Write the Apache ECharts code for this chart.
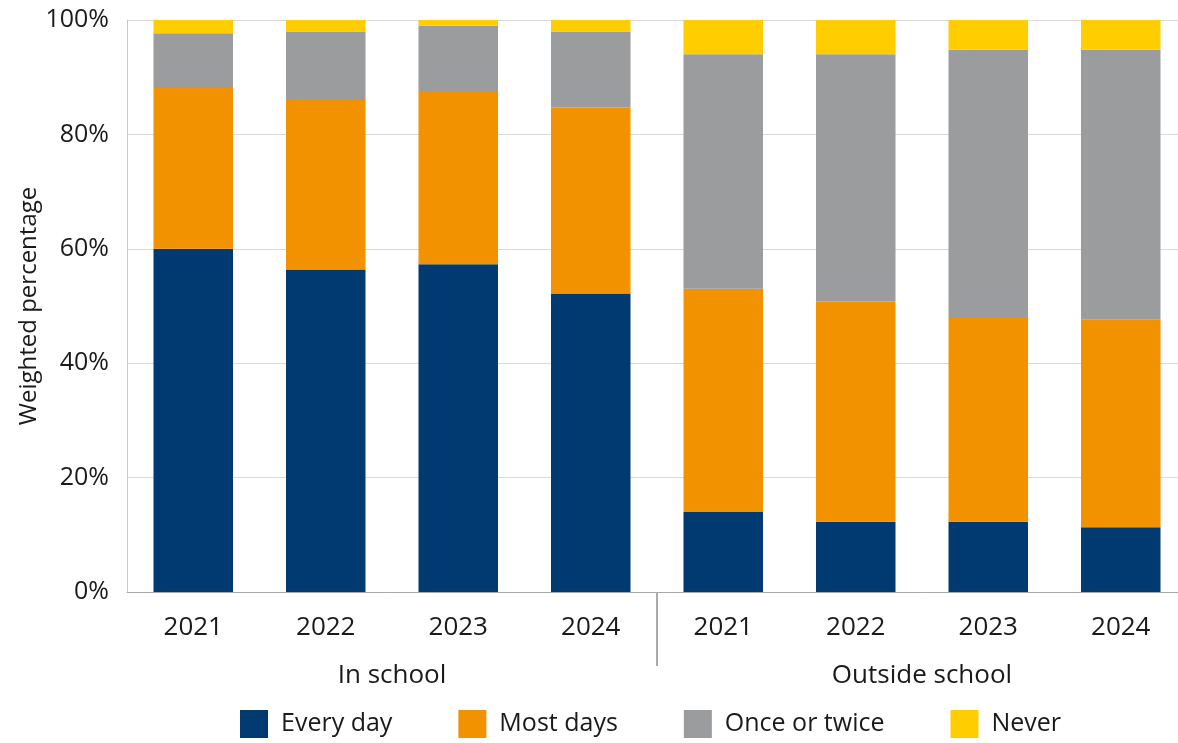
<!DOCTYPE html>
<html>
<head>
<meta charset="utf-8">
<script src="https://cdn.jsdelivr.net/npm/echarts@6/dist/echarts.min.js"></script>
<style>html,body{margin:0;padding:0;background:#fff;overflow:hidden}#c{width:1190px;height:743px}</style>
</head>
<body>
<div id="c"></div>
<script>
const years = ['2021', '2022', '2023', '2024', '2021', '2022', '2023', '2024'];
const groups = ['In school', 'Outside school'];
const seriesNames = ['Every day', 'Most days', 'Once or twice', 'Never'];
const everyDay = [60, 56.4, 57.3, 52.2, 14, 12.3, 12.3, 11.3];
const mostDays = [28.1, 29.6, 30.3, 32.5, 39, 38.5, 35.6, 36.4];
const onceOrTwice = [9.6, 12, 11.4, 13.3, 41, 43.2, 46.9, 47.1];
const never = [2.3, 2, 1, 2, 6, 6, 5.2, 5.2];
const yTicks = [0, 20, 40, 60, 80, 100];
const colors = ['#003a70', '#f39200', '#9b9c9d', '#ffcd00'];

const font = '"Open Sans", Lato, sans-serif';
const chart = echarts.init(document.getElementById('c'), null, {renderer: 'canvas'});
const values = [everyDay, mostDays, onceOrTwice, never];

chart.setOption({
  animation: false,
  textStyle: {fontFamily: font},
  color: colors,
  grid: [
    {left: 127, top: 20, width: 1060, height: 572},
    {left: 127, top: 592, width: 1060, height: 74}
  ],
  legend: {
    left: 235, bottom: 0,
    itemWidth: 28, itemHeight: 28, itemGap: 66,
    icon: 'rect',
    textStyle: {fontSize: 25, color: '#1a1a1a', fontFamily: font, padding: [0, 0, 0, 8]},
    data: seriesNames
  },
  xAxis: [
    {
      type: 'category', gridIndex: 0, data: years,
      axisLine: {lineStyle: {color: '#aaa', width: 1}},
      axisTick: {show: false},
      axisLabel: {fontSize: 26, color: '#1a1a1a', margin: 23, fontFamily: font}
    },
    {
      type: 'category', gridIndex: 1, data: groups,
      axisLine: {show: false},
      axisTick: {show: false},
      splitLine: {show: true, showMinLine: false, showMaxLine: false, lineStyle: {color: '#aaa', width: 2}},
      axisLabel: {fontSize: 26, color: '#1a1a1a', margin: -3, fontFamily: font}
    }
  ],
  yAxis: [
    {
      type: 'value', gridIndex: 0, min: yTicks[0], max: yTicks[yTicks.length - 1], interval: 20,
      name: 'Weighted percentage', nameLocation: 'middle', nameGap: 86, nameMoveOverlap: false,
      nameTextStyle: {fontSize: 24, color: '#1a1a1a', fontFamily: font},
      axisLine: {show: true, lineStyle: {color: '#c8c8c8', width: 1}},
      axisTick: {show: false},
      splitLine: {lineStyle: {color: '#d9d9d9', width: 1}},
      axisLabel: {fontSize: 25, color: '#1a1a1a', margin: 18, formatter: '{value}%', fontFamily: font}
    },
    {type: 'value', gridIndex: 1, show: false}
  ],
  series: seriesNames.map((n, i) => ({
    name: n, type: 'bar', stack: 'total', xAxisIndex: 0, yAxisIndex: 0,
    barWidth: '60%', data: values[i],
    itemStyle: {color: colors[i]}
  }))
});
</script>
</body>
</html>
